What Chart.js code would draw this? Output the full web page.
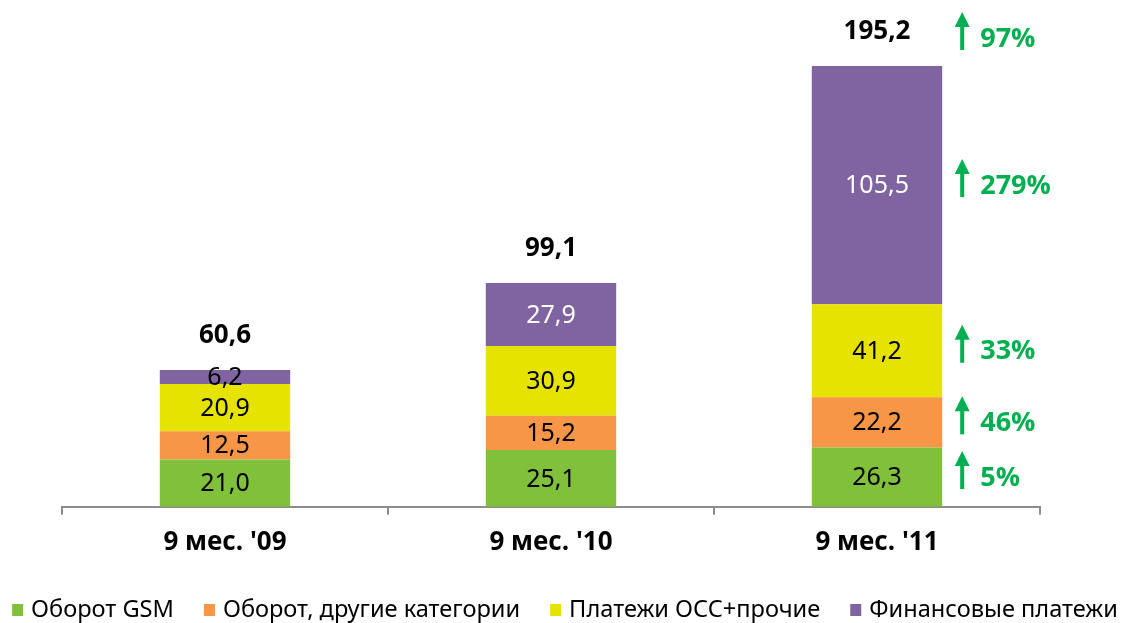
<!DOCTYPE html>
<html><head><meta charset="utf-8">
<script src="https://cdn.jsdelivr.net/npm/chart.js@4"></script>
<style>html,body{margin:0;padding:0;background:#fff}#wrap{width:1130px;height:623px}</style>
</head><body><div id="wrap"><canvas id="c" width="1130" height="623"></canvas></div>
<script>
const categories = ["9 мес. '09", "9 мес. '10", "9 мес. '11"];
const seriesNames = ["Оборот GSM", "Оборот, другие категории", "Платежи ОСС+прочие", "Финансовые платежи"];
const gsm = [21.0, 25.1, 26.3];
const other = [12.5, 15.2, 22.2];
const occ = [20.9, 30.9, 41.2];
const fin = [6.2, 27.9, 105.5];
const totals = [60.6, 99.1, 195.2];
const growthSeries = ["5%", "46%", "33%", "279%"];
const growthTotal = "97%";
const colors = ["#80C03A", "#F79646", "#E6E300", "#8064A2"];
const labelColors = [["#000","#000","#000"],["#000","#000","#000"],["#000","#000","#000"],["#000","#fff","#fff"]];

const fmt = v => v.toFixed(1).replace('.', ',');
const REG = '"Noto Sans", "Open Sans", sans-serif';
const BOLD = '"Open Sans", "Noto Sans", sans-serif';

const labelsPlugin = {
  id: 'labels',
  afterDatasetsDraw(chart) {
    const ctx = chart.ctx;
    ctx.save();
    ctx.textAlign = 'center';
    ctx.textBaseline = 'middle';
    chart.data.datasets.forEach((ds, di) => {
      const meta = chart.getDatasetMeta(di);
      meta.data.forEach((bar, i) => {
        const cy = (bar.y + bar.base) / 2;
        ctx.font = '25px ' + REG;
        ctx.fillStyle = labelColors[di][i];
        ctx.fillText(fmt(ds.data[i]), bar.x, cy + 1);
      });
    });
    // totals
    const topMeta = chart.getDatasetMeta(chart.data.datasets.length - 1);
    ctx.font = 'bold 26px ' + BOLD;
    ctx.fillStyle = '#000';
    topMeta.data.forEach((bar, i) => {
      ctx.fillText(fmt(totals[i]), bar.x, bar.y - 34);
    });
    // growth arrows for last category
    const last = categories.length - 1;
    const green = '#00B050';
    const drawArrow = (x, cy, text) => {
      ctx.fillStyle = green;
      const tip = cy - 26, headBase = cy - 11, bottom = cy + 12;
      ctx.beginPath();
      ctx.moveTo(x, tip);
      ctx.lineTo(x - 7.5, headBase);
      ctx.lineTo(x + 7.5, headBase);
      ctx.closePath();
      ctx.fill();
      ctx.fillRect(x - 2, headBase - 1, 4, bottom - headBase + 1);
      ctx.font = 'bold 27px ' + BOLD;
      ctx.textAlign = 'left';
      ctx.fillText(text, x + 18, cy + 1);
    };
    chart.data.datasets.forEach((ds, di) => {
      const bar = chart.getDatasetMeta(di).data[last];
      const right = bar.x + bar.width / 2;
      drawArrow(right + 20, (bar.y + bar.base) / 2, growthSeries[di]);
    });
    const tb = topMeta.data[last];
    drawArrow(tb.x + tb.width / 2 + 20, tb.y - 28, growthTotal);
    ctx.restore();
  }
};

const legendPlugin = {
  id: 'customLegend',
  afterDraw(chart) {
    const ctx = chart.ctx;
    ctx.save();
    ctx.font = '23.6px ' + REG;
    ctx.textBaseline = 'middle';
    ctx.textAlign = 'left';
    const box = 12, gapText = 7, gapItem = 30;
    const items = chart.data.datasets.map(ds => ({ text: ds.label, color: ds.backgroundColor, w: ctx.measureText(ds.label).width }));
    const total = items.reduce((s, it) => s + box + gapText + it.w, 0) + gapItem * (items.length - 1);
    let x = (chart.width - total) / 2;
    const cy = 610;
    items.forEach(it => {
      ctx.fillStyle = it.color;
      ctx.fillRect(x, cy - 6, box - 1, box);
      ctx.fillStyle = '#000';
      ctx.fillText(it.text, x + box + gapText, cy);
      x += box + gapText + it.w + gapItem;
    });
    ctx.restore();
  }
};

const seriesData = [gsm, other, occ, fin];
new Chart(document.getElementById('c'), {
  type: 'bar',
  data: {
    labels: categories,
    datasets: seriesData.map((d, i) => ({
      label: seriesNames[i],
      data: d,
      backgroundColor: colors[i],
      borderWidth: 0,
      barPercentage: 0.4,
      categoryPercentage: 1.0
    }))
  },
  options: {
    responsive: false,
    animation: false,
    layout: { padding: { left: 62, right: 90, top: 10, bottom: 53 } },
    scales: {
      x: {
        stacked: true,
        offset: true,
        grid: { offset: true, drawOnChartArea: false, drawTicks: true, tickLength: 8, color: '#8c8c8c', lineWidth: 2 },
        border: { display: true, color: '#8c8c8c', width: 2 },
        ticks: { color: '#000', font: { family: BOLD, size: 26, weight: 'bold' }, padding: 12 }
      },
      y: { stacked: true, display: false, min: 0, max: 220 }
    },
    plugins: {
      legend: { display: false },
      tooltip: { enabled: false }
    }
  },
  plugins: [labelsPlugin, legendPlugin]
});
</script></body></html>
